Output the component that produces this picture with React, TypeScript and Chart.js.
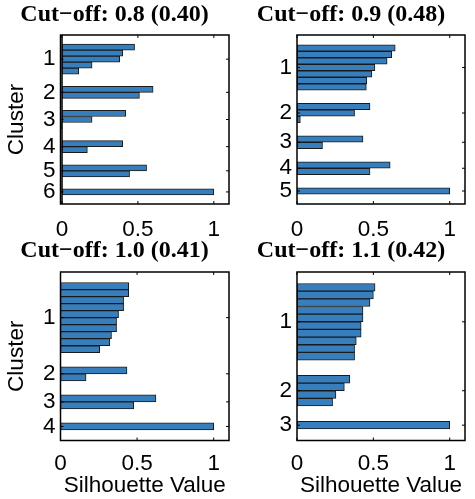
import React, { useEffect, useRef } from "react";
import { Chart, registerables } from "chart.js";

Chart.register(...registerables);

// ---------- data (silhouette values per cluster, sorted descending) ----------
const panelTitles = [
  "Cut\u2212off: 0.8 (0.40)",
  "Cut\u2212off: 0.9 (0.48)",
  "Cut\u2212off: 1.0 (0.41)",
  "Cut\u2212off: 1.1 (0.42)",
];

const cut08Clusters = [
  [0.478, 0.4, 0.38, 0.198, 0.11],
  [0.6, 0.51],
  [0.42, 0.198, -0.01],
  [0.4, 0.167],
  [0.557, 0.445],
  [1.0],
];
const cut09Clusters = [
  [0.643, 0.62, 0.59, 0.51, 0.49, 0.456, 0.454],
  [0.478, 0.377, 0.022],
  [0.432, 0.167],
  [0.61, 0.478],
  [1.0],
];
const cut10Clusters = [
  [0.445, 0.445, 0.412, 0.412, 0.379, 0.366, 0.366, 0.333, 0.322, 0.256],
  [0.434, 0.167],
  [0.623, 0.478],
  [1.0],
];
const cut11Clusters = [
  [0.511, 0.5, 0.478, 0.432, 0.432, 0.42, 0.42, 0.388, 0.377, 0.377],
  [0.346, 0.31, 0.255, 0.233],
  [1.0],
];

const xTickValues = [0, 0.5, 1];
const xMax = 1.1;
const clusterSpace = 2;

const BAR_FILL = "rgb(55,126,189)";
const BAR_EDGE = "#1a1a1a";
const SANS = "'Liberation Sans', Arial, Helvetica, sans-serif";
const SERIF = "'Liberation Serif', 'Times New Roman', serif";

// Silhouette-plot layout (gap of `clusterSpace` empty rows around clusters)
function buildLayout(clusters: number[][]) {
  const points: { x: number; y: number }[] = [];
  const centers: number[] = [];
  let pos = clusterSpace;
  clusters.forEach((vals) => {
    const start = pos + 1;
    vals.forEach((v) => {
      pos += 1;
      points.push({ x: v, y: pos });
    });
    centers.push((start + pos) / 2);
    pos += clusterSpace;
  });
  return { points, centers, length: pos };
}

const boxPlugin = {
  id: "matlabBox",
  afterDatasetsDraw(chart: any) {
    const { ctx, chartArea: a, scales } = chart;
    const x = scales.x;
    const y = scales.y;
    const tl = 3;
    ctx.save();
    ctx.strokeStyle = "#000";
    ctx.lineWidth = 1;
    ctx.beginPath();
    x.ticks.forEach((t: any) => {
      const px = x.getPixelForValue(t.value);
      ctx.moveTo(px, a.bottom);
      ctx.lineTo(px, a.bottom - tl);
      ctx.moveTo(px, a.top);
      ctx.lineTo(px, a.top + tl);
    });
    y.ticks.forEach((t: any) => {
      const py = y.getPixelForValue(t.value);
      ctx.moveTo(a.left, py);
      ctx.lineTo(a.left + tl, py);
      ctx.moveTo(a.right, py);
      ctx.lineTo(a.right - tl, py);
    });
    ctx.stroke();
    if (x.min < 0) {
      const p0 = x.getPixelForValue(0);
      ctx.lineWidth = 1.5;
      ctx.beginPath();
      ctx.moveTo(p0, a.top);
      ctx.lineTo(p0, a.bottom);
      ctx.stroke();
    }
    ctx.lineWidth = 1.5;
    ctx.strokeRect(a.left, a.top, a.right - a.left, a.bottom - a.top);
    ctx.restore();
  },
};

type PanelProps = {
  clusters: number[][];
  title: string;
  left: number;
  top: number;
  width: number;
  height: number;
  yAxisWidth: number;
  padRight: number;
  xAxisHeight: number;
  xTickPad: number;
  titleGap: number;
  showCluster: boolean;
  showXTitle: boolean;
};

function Panel(p: PanelProps) {
  const ref = useRef<HTMLCanvasElement | null>(null);
  useEffect(() => {
    if (!ref.current) return;
    const lay = buildLayout(p.clusters);
    const dataMin = Math.min(0, ...p.clusters.flat());
    const labels = p.clusters.map((_, i) => String(i + 1));
    const chart = new Chart(ref.current, {
      type: "bar",
      data: {
        datasets: [
          {
            data: lay.points as any,
            backgroundColor: BAR_FILL,
            borderColor: BAR_EDGE,
            borderWidth: 1,
            borderSkipped: false,
            barPercentage: 1,
            categoryPercentage: 1,
          },
        ],
      },
      options: {
        indexAxis: "y",
        animation: false,
        responsive: false,
        events: [],
        layout: { padding: { left: 0, right: p.padRight, top: 0, bottom: 0 } },
        plugins: {
          legend: { display: false },
          tooltip: { enabled: false },
          title: {
            display: true,
            text: p.title,
            fullSize: true,
            color: "#000",
            font: { family: SERIF, weight: "bold", size: 24 },
            padding: { top: 0, bottom: p.titleGap },
          },
        },
        scales: {
          x: {
            type: "linear",
            position: "bottom",
            min: dataMin,
            max: xMax,
            bounds: "data",
            offset: false,
            grid: { display: false, drawTicks: false },
            border: { display: false },
            ticks: {
              color: "#000",
              font: { family: SANS, size: 22.5 },
              padding: p.xTickPad,
              maxRotation: 0,
              autoSkip: false,
              callback: (v: any) => String(v),
            },
            afterBuildTicks: (s: any) => {
              s.ticks = xTickValues.map((v) => ({ value: v }));
            },
            afterFit: (s: any) => {
              s.height = p.xAxisHeight;
            },
            title: {
              display: p.showXTitle,
              text: "Silhouette Value",
              color: "#000",
              font: { family: SANS, size: 22.5 },
              padding: { top: 0, bottom: 0 },
            },
          },
          y: {
            type: "linear",
            position: "left",
            reverse: true,
            min: 1,
            max: lay.length,
            bounds: "data",
            offset: false,
            grid: { display: false, drawTicks: false, offset: false },
            border: { display: false },
            ticks: {
              color: "#000",
              font: { family: SANS, size: 22.5 },
              padding: 5,
              autoSkip: false,
              callback: (_v: any, i: number) => labels[i],
            },
            afterBuildTicks: (s: any) => {
              s.ticks = lay.centers.map((v) => ({ value: v }));
            },
            afterFit: (s: any) => {
              s.width = p.yAxisWidth;
            },
            title: {
              display: p.showCluster,
              text: "Cluster",
              color: "#000",
              font: { family: SANS, size: 22.5 },
              padding: { top: 3.5, bottom: 0 },
            },
          },
        },
      } as any,
      plugins: [boxPlugin],
    });
    return () => chart.destroy();
  }, []);
  return (
    <canvas
      ref={ref}
      width={p.width}
      height={p.height}
      style={{ position: "absolute", left: p.left, top: p.top, width: p.width, height: p.height }}
    />
  );
}

export default function App() {
  return (
    <div
      style={{
        position: "absolute",
        left: 0,
        top: 0,
        width: 475,
        height: 499,
        overflow: "hidden",
        background: "#fff",
      }}
    >
      <Panel clusters={cut08Clusters} title={panelTitles[0]} left={0} top={0} width={285} height={236}
        yAxisWidth={60.5} padRight={56} xAxisHeight={32} xTickPad={12} titleGap={6.2} showCluster={true} showXTitle={false} />
      <Panel clusters={cut09Clusters} title={panelTitles[1]} left={237} top={0} width={283} height={236}
        yAxisWidth={60} padRight={55} xAxisHeight={32} xTickPad={12} titleGap={6.2} showCluster={false} showXTitle={false} />
      <Panel clusters={cut10Clusters} title={panelTitles[2]} left={0} top={236} width={285} height={263}
        yAxisWidth={60.5} padRight={56} xAxisHeight={58.5} xTickPad={10} titleGap={7.2} showCluster={true} showXTitle={true} />
      <Panel clusters={cut11Clusters} title={panelTitles[3]} left={237} top={236} width={283} height={263}
        yAxisWidth={60} padRight={55} xAxisHeight={58.5} xTickPad={10} titleGap={7.2} showCluster={false} showXTitle={true} />
    </div>
  );
}
